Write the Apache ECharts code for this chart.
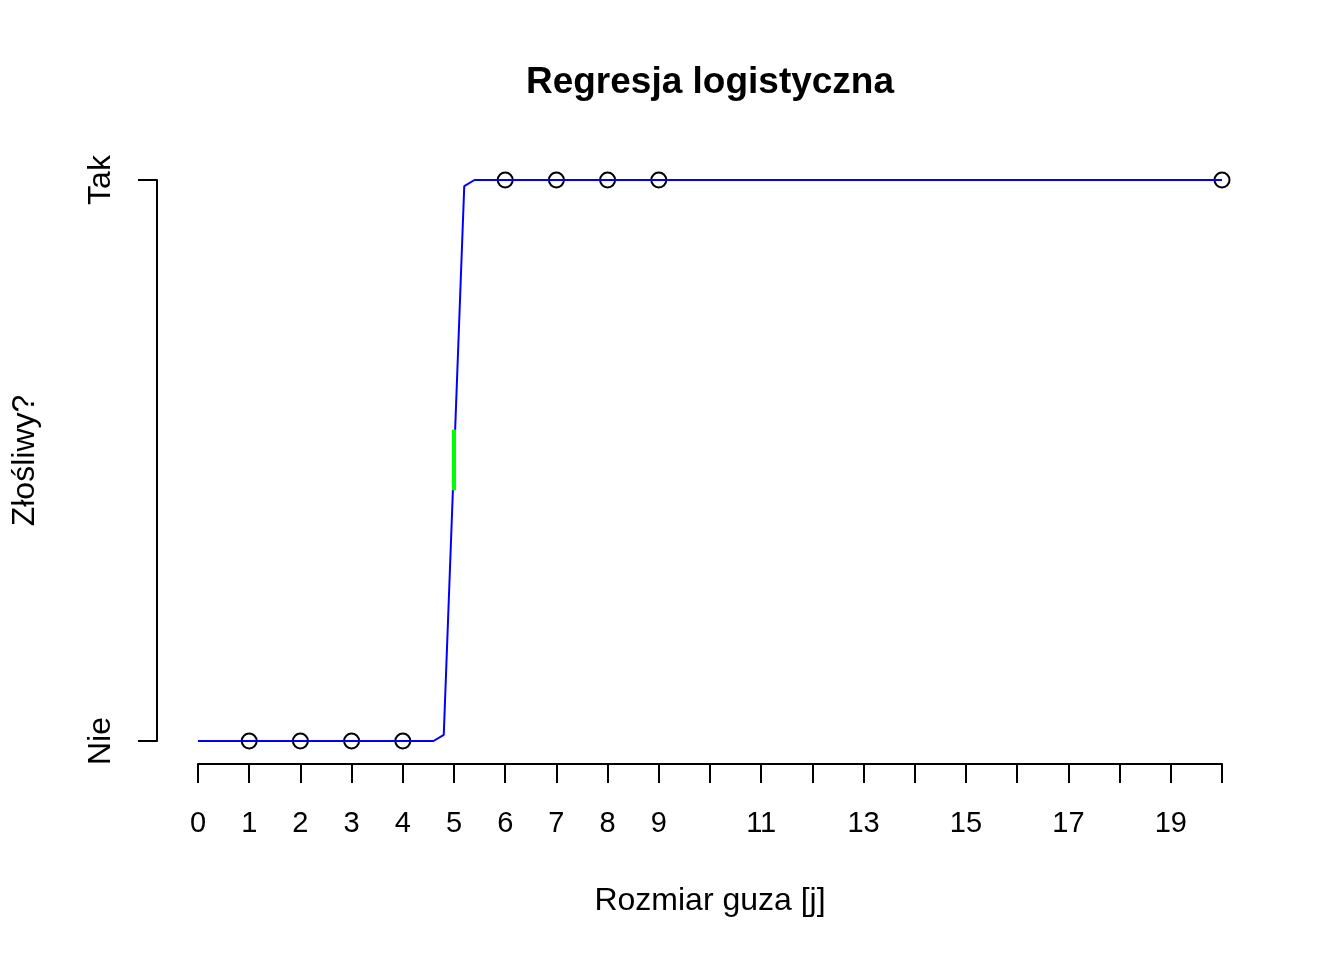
<!DOCTYPE html>
<html>
<head>
<meta charset="utf-8">
<script src="https://cdn.jsdelivr.net/npm/echarts@6/dist/echarts.min.js"></script>
<style>
  html, body { margin: 0; padding: 0; background: #fff; }
  #chart { width: 1344px; height: 960px; }
</style>
</head>
<body>
<div id="chart"></div>
<script>
// fitted logistic curve
const curveX = [0, 4.6, 4.8, 5.0, 5.2, 5.4, 20];
const curveY = [0, 0, 0.011, 0.5, 0.989, 1, 1];

// observations (0 = Nie, 1 = Tak)
const pointX = [1, 2, 3, 4, 6, 7, 8, 9, 20];
const pointY = [0, 0, 0, 0, 1, 1, 1, 1, 1];

// green mark at the decision threshold
const thresholdX = [5, 5];
const thresholdY = [0.447, 0.555];

const xTickLabels = ['0', '1', '2', '3', '4', '5', '6', '7', '8', '9', '11', '13', '15', '17', '19'];
const yTickLabels = ['Nie', 'Tak'];

const FONT = '"Liberation Sans", Arial, Helvetica, sans-serif';

const chart = echarts.init(document.getElementById('chart'));

chart.setOption({
    backgroundColor: '#ffffff',
    animation: false,
    title: {
        text: 'Regresja logistyczna',
        left: 705,
        top: 59,
        textAlign: 'center',
        textStyle: { fontFamily: FONT, fontSize: 37, fontWeight: 'bold', color: '#000' }
    },
    grid: { left: 198, right: 122, top: 180, bottom: 219 },
    xAxis: {
        type: 'value',
        min: 0,
        max: 20,
        interval: 1,
        offset: 23,
        name: 'Rozmiar guza [j]',
        nameLocation: 'middle',
        nameGap: 121,
        nameTextStyle: { fontFamily: FONT, fontSize: 32, color: '#000' },
        axisLine: { show: true, onZero: false, lineStyle: { color: '#000', width: 2 } },
        axisTick: { show: true, length: 19, lineStyle: { color: '#000', width: 2 } },
        axisLabel: {
            margin: 45,
            fontFamily: FONT,
            fontSize: 29,
            color: '#000',
            showMinLabel: true,
            showMaxLabel: true,
            hideOverlap: false,
            formatter: (v) => (xTickLabels.includes(String(v)) ? String(v) : '')
        },
        splitLine: { show: false }
    },
    yAxis: {
        type: 'value',
        min: 0,
        max: 1,
        interval: 1,
        offset: 41,
        name: 'Złośliwy?',
        nameLocation: 'middle',
        nameGap: 116,
        nameTextStyle: { fontFamily: FONT, fontSize: 32, color: '#000' },
        axisLine: { show: true, onZero: false, lineStyle: { color: '#000', width: 2 } },
        axisTick: { show: true, length: 19, lineStyle: { color: '#000', width: 2 } },
        axisLabel: {
            margin: 40,
            rotate: 90,
            fontFamily: FONT,
            fontSize: 32,
            color: '#000',
            formatter: (v) => yTickLabels[v]
        },
        splitLine: { show: false }
    },
    series: [
        {
            type: 'scatter',
            data: pointX.map((x, i) => [x, pointY[i]]),
            symbol: 'circle',
            symbolSize: 15,
            clip: false,
            itemStyle: { color: 'rgba(0,0,0,0)', borderColor: '#000', borderWidth: 2, opacity: 1 },
            z: 2
        },
        {
            type: 'line',
            data: curveX.map((x, i) => [x, curveY[i]]),
            showSymbol: false,
            clip: false,
            lineStyle: { color: '#0000ff', width: 2 },
            z: 3
        },
        {
            type: 'line',
            data: thresholdX.map((x, i) => [x, thresholdY[i]]),
            showSymbol: false,
            clip: false,
            lineStyle: { color: '#00ff00', width: 4, cap: 'butt' },
            z: 4
        }
    ]
});

window.addEventListener('resize', () => chart.resize());
</script>
</body>
</html>
